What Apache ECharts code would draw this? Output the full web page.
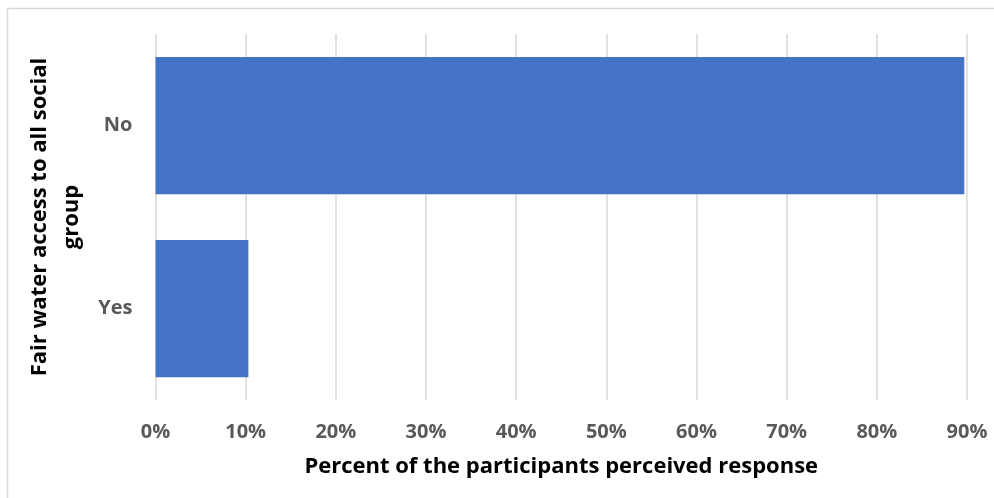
<!DOCTYPE html>
<html>
<head>
<meta charset="utf-8">
<script src="https://cdn.jsdelivr.net/npm/echarts@6/dist/echarts.min.js"></script>
<style>
  html, body { margin: 0; padding: 0; background: #fff; }
  #chart { width: 994px; height: 498px; }
</style>
</head>
<body>
<div id="chart"></div>
<script>
const categories = ['No', 'Yes'];
const percentValues = [89.7, 10.3];
const tickValues = [0, 10, 20, 30, 40, 50, 60, 70, 80, 90];

const xTitle = 'Percent of the participants perceived response';
const yTitle = 'Fair water access to all social\ngroup';

const chart = echarts.init(document.getElementById('chart'));

chart.setOption({
  animation: false,
  graphic: [
    {
      type: 'rect',
      shape: { x: 7.5, y: 8.5, width: 995, height: 500 },
      style: { fill: 'none', stroke: '#d9d9d9', lineWidth: 1.5 },
      silent: true
    }
  ],
  grid: {
    left: 155.5,
    right: 27,
    top: 34,
    bottom: 98
  },
  xAxis: {
    type: 'value',
    min: tickValues[0],
    max: tickValues[tickValues.length - 1],
    interval: 10,
    name: xTitle,
    nameLocation: 'middle',
    nameGap: 56,
    nameTextStyle: {
      fontFamily: 'Open Sans',
      fontWeight: 'bold',
      fontSize: 22,
      color: '#000'
    },
    axisLine: { show: false },
    axisTick: { show: false },
    axisLabel: {
      margin: 22,
      fontFamily: 'Open Sans',
      fontWeight: 'bold',
      fontSize: 20,
      color: '#595959',
      formatter: (v) => v + '%'
    },
    splitLine: {
      show: true,
      lineStyle: { color: '#d9d9d9', width: 1.5 }
    }
  },
  yAxis: {
    type: 'category',
    inverse: true,
    data: categories,
    name: yTitle,
    nameLocation: 'middle',
    nameGap: 58,
    nameTextStyle: {
      fontFamily: 'Open Sans',
      fontWeight: 'bold',
      fontSize: 22,
      color: '#000',
      lineHeight: 32
    },
    axisLine: { show: false },
    axisTick: { show: false },
    axisLabel: {
      margin: 23,
      fontFamily: 'Open Sans',
      fontWeight: 'bold',
      fontSize: 20,
      color: '#595959'
    }
  },
  series: [
    {
      type: 'bar',
      data: percentValues,
      barCategoryGap: '25%',
      itemStyle: { color: '#4472c4' }
    }
  ]
});
</script>
</body>
</html>
